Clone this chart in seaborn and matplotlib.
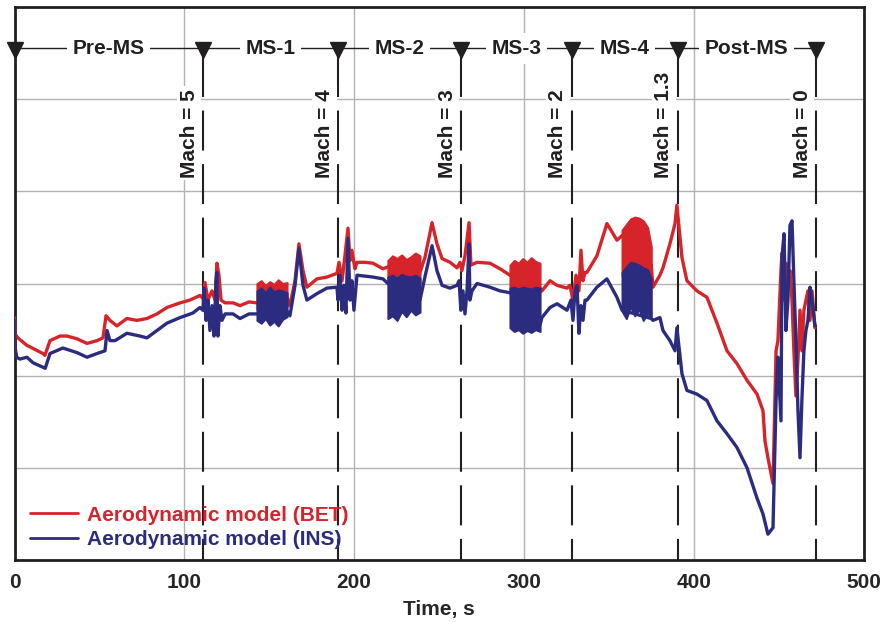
import numpy as np
import pandas as pd
import matplotlib
matplotlib.use("Agg")
import matplotlib.pyplot as plt
import seaborn as sns

# ---------------- data ----------------
bet_t = [0.0, 0.4, 2.0, 7.2, 16.8, 17.9, 20.9, 26.8, 30.9, 36.8, 42.7, 48.6, 52.1, 53.9, 56.2,
         60.3, 66.2, 72.1, 78.0, 83.9, 89.8, 97.5, 103.3, 109.2, 111.0, 112.2, 113.9, 116.3, 118.1,
         119.2, 120.4, 121.6, 124.0, 128.7, 132.8, 138.1, 142.8, 160.5, 162.2, 165.2, 167.5, 169.9,
         172.2, 178.1, 184.0, 189.9, 191.1, 192.9, 194.6, 196.4, 197.6, 198.7, 200.5, 201.7, 206.4,
         211.1, 217.0, 219.9, 238.8, 241.7, 245.9, 248.8, 251.8, 256.5, 260.6, 262.4, 263.5, 265.3,
         267.7, 268.8, 272.4, 280.0, 285.9, 291.8, 309.5, 310.6, 315.4, 319.5, 325.4, 327.1, 328.9,
         330.7, 332.4, 333.6, 334.8, 336.0, 337.1, 343.0, 348.9, 354.8, 357.8, 375.0, 376.0, 380.1,
         381.9, 386.0, 389.0, 390.1, 393.1, 396.0, 401.9, 407.8, 413.7, 419.6, 425.5, 431.4, 437.3,
         440.8, 442.0, 443.7, 446.7, 448.5, 449.6, 451.4, 452.0, 453.2, 454.3, 455.5, 456.7, 457.9,
         459.0, 460.2, 461.4, 462.6, 463.7, 464.9, 466.1, 467.3, 468.5, 469.7, 471.4]
bet_v = [2.63, 2.45, 2.41, 2.33, 2.24, 2.22, 2.38, 2.43, 2.43, 2.40, 2.35, 2.38, 2.41, 2.65, 2.60,
         2.54, 2.62, 2.60, 2.62, 2.67, 2.74, 2.79, 2.82, 2.87, 2.84, 3.01, 2.82, 2.92, 2.82,
         3.22, 3.09, 2.82, 2.79, 2.79, 2.76, 2.80, 2.79, 2.85, 2.76, 3.03, 3.43, 3.14,
         2.96, 3.05, 3.07, 3.11, 3.23, 3.03, 3.30, 3.60, 3.25, 3.36, 3.16, 3.23, 3.23,
         3.22, 3.16, 3.18, 3.12, 3.28, 3.66, 3.43, 3.27, 3.23, 3.17, 3.23, 3.14, 3.30,
         3.66, 3.20, 3.23, 3.22, 3.16, 3.09, 2.95, 2.92, 3.03, 2.98, 2.95, 2.98, 2.82,
         3.09, 2.92, 3.36, 3.03, 3.12, 3.12, 3.30, 3.65, 3.47, 3.52, 3.20, 2.96, 3.09,
         3.17, 3.43, 3.65, 3.85, 3.28, 3.03, 2.92, 2.85, 2.57, 2.27, 2.13, 1.95, 1.80,
         1.62, 1.29, 1.11, 0.83, 2.27, 2.38, 3.14, 3.33, 2.82, 3.22, 3.03, 3.14, 2.82,
         2.27, 1.78, 2.17, 2.71, 2.27, 2.71, 2.82, 2.92, 2.60, 2.92, 2.52]

ins_t = [0.0, 0.4, 1.3, 3.2, 7.3, 10.9, 16.8, 18.1, 20.9, 28.5, 36.8, 42.7, 48.6, 53.3, 54.5,
         56.2, 59.2, 66.2, 73.9, 78.0, 83.9, 89.8, 97.5, 105.1, 109.2, 111.0, 111.6, 112.8, 113.9,
         115.1, 116.3, 117.5, 118.7, 119.2, 119.8, 121.0, 122.2, 124.0, 128.7, 132.8, 138.1, 142.8,
         160.5, 162.2, 165.2, 167.5, 169.9, 172.2, 178.1, 184.0, 189.9, 190.5, 191.7, 192.9, 194.0,
         195.2, 196.4, 197.6, 198.7, 199.9, 201.7, 206.4, 211.1, 217.0, 219.9, 238.8, 241.7, 245.9,
         248.8, 251.8, 256.5, 260.6, 261.8, 262.9, 264.1, 265.3, 266.5, 267.7, 268.2, 269.4, 272.4,
         280.0, 285.9, 291.8, 309.5, 310.6, 315.4, 319.5, 325.4, 327.7, 328.9, 330.1, 331.3, 332.4,
         333.6, 334.8, 336.0, 337.1, 343.0, 348.9, 354.8, 357.8, 375.0, 376.0, 380.1, 381.9, 386.0,
         389.0, 390.1, 393.1, 396.0, 401.9, 407.8, 413.7, 419.6, 425.5, 431.4, 437.3, 440.8, 443.7,
         446.7, 448.5, 449.6, 451.4, 452.0, 453.2, 454.3, 455.5, 456.7, 457.9, 459.0, 460.2, 461.4,
         462.6, 463.7, 464.9, 466.1, 467.3, 468.5, 469.7, 471.4]
ins_v = [2.60, 2.30, 2.20, 2.18, 2.20, 2.14, 2.09, 2.08, 2.24, 2.30, 2.25, 2.20, 2.24, 2.27, 2.49,
         2.38, 2.38, 2.46, 2.43, 2.41, 2.49, 2.57, 2.63, 2.68, 2.74, 2.71, 2.95, 2.60, 2.82,
         2.49, 2.76, 2.43, 3.03, 3.12, 2.43, 2.76, 2.60, 2.67, 2.67, 2.62, 2.67, 2.67,
         2.70, 2.65, 2.98, 3.38, 2.98, 2.82, 2.89, 2.95, 2.96, 2.82, 3.09, 2.71, 2.98,
         2.68, 3.49, 2.82, 3.03, 2.71, 3.09, 3.08, 3.07, 3.05, 3.00, 2.82, 3.07, 3.41,
         3.14, 2.98, 2.95, 2.98, 3.03, 2.71, 2.92, 2.67, 2.92, 3.43, 2.82, 2.92, 3.00,
         2.96, 2.92, 2.90, 2.55, 2.63, 2.74, 2.78, 2.71, 2.82, 2.60, 2.92, 2.98, 2.46,
         2.76, 2.60, 2.82, 2.82, 2.96, 3.05, 2.85, 2.71, 2.62, 2.60, 2.63, 2.49, 2.38,
         2.27, 2.52, 2.02, 1.84, 1.80, 1.73, 1.51, 1.37, 1.22, 1.00, 0.67, 0.50, 0.28,
         0.35, 1.73, 2.20, 1.51, 3.28, 3.54, 2.49, 2.82, 3.63, 3.68, 3.03, 2.38, 1.62,
         1.11, 1.73, 2.27, 2.49, 2.60, 2.96, 2.82, 2.54]

# high-frequency oscillation bands (envelopes)
band1_t = [142.8, 145.3, 147.8, 150.3, 152.8, 155.3, 157.8, 160.5]
band1_bet_hi = [3.00, 3.03, 2.98, 3.02, 2.99, 3.04, 3.00, 3.01]
band1_bet_lo = [2.72, 2.70, 2.74, 2.69, 2.73, 2.70, 2.72, 2.75]
band1_ins_hi = [2.92, 2.95, 2.90, 2.96, 2.91, 2.93, 2.92, 2.90]
band1_ins_lo = [2.60, 2.57, 2.62, 2.55, 2.59, 2.54, 2.61, 2.64]

band2_t = [219.9, 222.6, 225.3, 228.0, 230.7, 233.4, 236.1, 238.8]
band2_bet_hi = [3.25, 3.30, 3.27, 3.31, 3.26, 3.29, 3.33, 3.30]
band2_bet_lo = [3.00, 3.02, 2.98, 3.01, 3.00, 2.99, 3.02, 3.00]
band2_ins_hi = [3.07, 3.09, 3.06, 3.10, 3.08, 3.07, 3.09, 3.06]
band2_ins_lo = [2.62, 2.65, 2.60, 2.70, 2.64, 2.71, 2.66, 2.69]

band3_t = [291.8, 294.3, 296.8, 299.3, 301.8, 304.3, 306.8, 309.5]
band3_bet_hi = [3.20, 3.25, 3.22, 3.27, 3.23, 3.28, 3.24, 3.22]
band3_bet_lo = [2.90, 2.92, 2.89, 2.91, 2.90, 2.92, 2.89, 2.90]
band3_ins_hi = [2.95, 2.96, 2.94, 2.96, 2.95, 2.94, 2.96, 2.95]
band3_ins_lo = [2.52, 2.48, 2.50, 2.46, 2.49, 2.47, 2.50, 2.48]

band4_t = [357.8, 360.3, 362.8, 365.3, 367.8, 370.3, 372.8, 375.0]
band4_bet_hi = [3.58, 3.64, 3.70, 3.72, 3.71, 3.68, 3.61, 3.40]
band4_bet_lo = [3.08, 3.06, 3.10, 3.05, 3.08, 3.04, 3.06, 3.00]
band4_ins_hi = [3.12, 3.18, 3.23, 3.22, 3.20, 3.17, 3.15, 3.05]
band4_ins_lo = [2.70, 2.62, 2.75, 2.65, 2.72, 2.60, 2.68, 2.62]

phase_bounds = [0.0, 111.0, 190.7, 262.9, 328.1, 390.6, 472.0]
phase_names = ["Pre-MS", "MS-1", "MS-2", "MS-3", "MS-4", "Post-MS"]
mach_labels = ["Mach = 5", "Mach = 4", "Mach = 3", "Mach = 2", "Mach = 1.3", "Mach = 0"]
x_ticks = [0, 100, 200, 300, 400, 500]
series_names = ["Aerodynamic model (BET)", "Aerodynamic model (INS)"]

# ---------------- style ----------------
sns.set_style("white")
plt.rcParams["font.family"] = ["Liberation Sans", "DejaVu Sans"]
plt.rcParams["font.weight"] = "bold"

RED = "#d7242a"
BLUE = "#2b2c7f"
INK = "#231f20"
FS = 15

fig = plt.figure(figsize=(8.86, 6.22), dpi=100)
ax = fig.add_axes([14.5 / 886, 62 / 622, 849 / 886, 553 / 622])

bet_df = pd.DataFrame({"t": bet_t, "v": bet_v})
ins_df = pd.DataFrame({"t": ins_t, "v": ins_v})

sns.lineplot(data=bet_df, x="t", y="v", ax=ax, color=RED, lw=2.4, sort=False,
             estimator=None, label=series_names[0], zorder=3)
for bt, lo, hi in [(band1_t, band1_bet_lo, band1_bet_hi), (band2_t, band2_bet_lo, band2_bet_hi),
                   (band3_t, band3_bet_lo, band3_bet_hi), (band4_t, band4_bet_lo, band4_bet_hi)]:
    ax.fill_between(bt, lo, hi, color=RED, lw=1.5, edgecolor=RED, zorder=3)

sns.lineplot(data=ins_df, x="t", y="v", ax=ax, color=BLUE, lw=2.4, sort=False,
             estimator=None, label=series_names[1], zorder=4)
for bt, lo, hi in [(band1_t, band1_ins_lo, band1_ins_hi), (band2_t, band2_ins_lo, band2_ins_hi),
                   (band3_t, band3_ins_lo, band3_ins_hi), (band4_t, band4_ins_lo, band4_ins_hi)]:
    ax.fill_between(bt, lo, hi, color=BLUE, lw=1.5, edgecolor=BLUE, zorder=4)

# axes / grid
ax.set_xlim(0, 500)
ax.set_ylim(0, 6)
ax.set_xticks(x_ticks)
ax.set_xticklabels([str(v) for v in x_ticks], fontsize=FS, fontweight="bold")
ax.set_yticks([1, 2, 3, 4, 5])
ax.set_yticklabels([])
ax.tick_params(axis="both", length=0, pad=9)
ax.grid(True, color="#b3b3b3", lw=1.0, zorder=0)
ax.set_axisbelow(True)
for s in ax.spines.values():
    s.set_visible(True)
    s.set_color(INK)
    s.set_linewidth(2.0)
ax.set_xlabel("Time, s", fontsize=FS, fontweight="bold", labelpad=6)
ax.set_ylabel("")

# phase row
y_phase = 5.55
ax.plot([phase_bounds[0], phase_bounds[-1]], [y_phase, y_phase], color=INK, lw=1.0, zorder=5)
ax.plot(phase_bounds, [5.53] * len(phase_bounds), linestyle="none", marker="v",
        ms=11, color=INK, clip_on=False, zorder=7)
for i, name in enumerate(phase_names):
    mid = (phase_bounds[i] + phase_bounds[i + 1]) / 2
    ax.text(mid, y_phase, name, ha="center", va="center", fontsize=FS, fontweight="bold",
            color=INK, zorder=6, bbox=dict(facecolor="white", edgecolor="none", pad=4))

# Mach lines and labels
for b, lab in zip(phase_bounds[1:], mach_labels):
    ax.plot([b, b], [5.46, 0.0], color=INK, lw=1.5, linestyle=(0, (19.2, 6.5)), zorder=2.5)
    ax.annotate(lab, xy=(b, 4.15), xytext=(-10, 0), textcoords="offset points",
                rotation=90, ha="center", va="bottom", fontsize=FS, fontweight="bold",
                color=INK, zorder=6,
                bbox=dict(facecolor="white", edgecolor="none", pad=2))

# legend
leg = ax.legend(loc="lower left", bbox_to_anchor=(0.0183, 0.02), frameon=False,
                fontsize=FS, handlelength=2.3, handletextpad=0.45, labelspacing=0.25,
                borderpad=0, borderaxespad=0)
for txt, col in zip(leg.get_texts(), [RED, BLUE]):
    txt.set_color(col)
    txt.set_fontweight("bold")
for h, col in zip(leg.get_lines(), [RED, BLUE]):
    h.set_color(col)
    h.set_linewidth(2.0)

fig.savefig("out.png", dpi=100)
